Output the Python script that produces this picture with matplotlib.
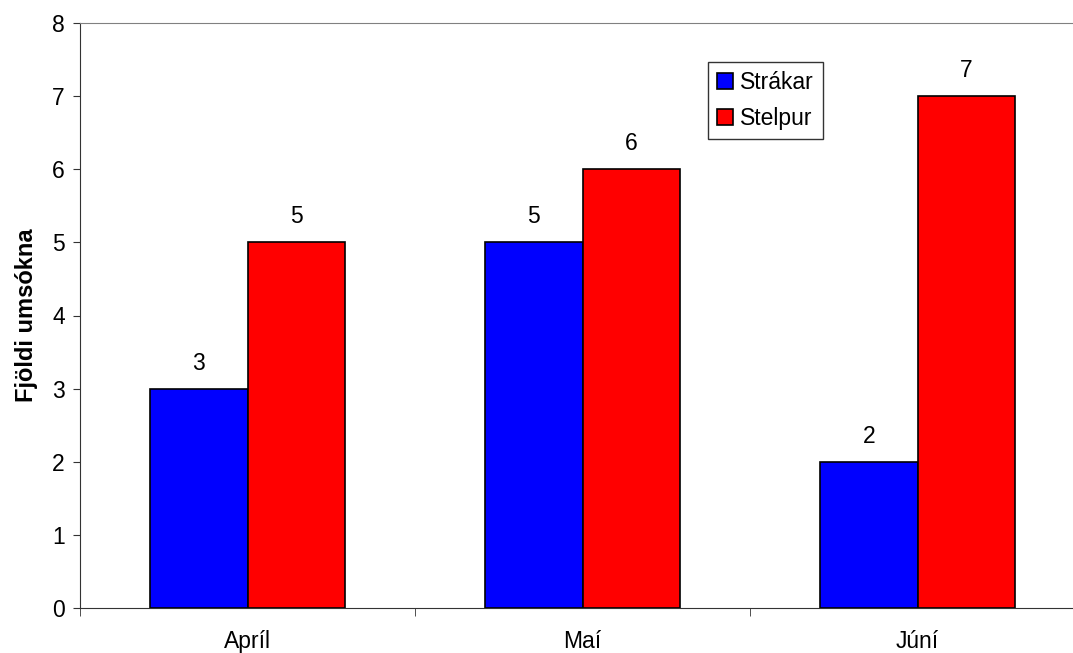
import numpy as np
import matplotlib.pyplot as plt
from matplotlib.ticker import FixedLocator

plt.rcParams['font.family'] = ['Liberation Sans', 'DejaVu Sans']

# Data
months = ['Apríl', 'Maí', 'Júní']
strakar = [3, 5, 2]
stelpur = [5, 6, 7]

FS = 16.5

W, H = 1073, 653
fig = plt.figure(figsize=(W / 100, H / 100), dpi=100)
# axes runs past the right edge of the figure, like the original
ax = fig.add_axes([80 / W, (H - 608) / H, 1005 / W, 585 / H])

x = np.arange(len(months))
bw = 0.29
b1 = ax.bar(x - bw / 2, strakar, bw, color='#0000ff', edgecolor='black', linewidth=1.2, label='Strákar')
b2 = ax.bar(x + bw / 2, stelpur, bw, color='#ff0000', edgecolor='black', linewidth=1.2, label='Stelpur')

for bars in (b1, b2):
    for b in bars:
        ax.annotate(f'{b.get_height():g}', (b.get_x() + b.get_width() / 2, b.get_height()),
                    xytext=(0, 10), textcoords='offset points', ha='center', va='bottom', fontsize=FS)

ax.set_xlim(-0.5, 2.5)
ax.set_ylim(0, 8)
ax.set_yticks(range(9))
ax.set_xticks(x)
ax.set_xticklabels(months)
ax.xaxis.set_minor_locator(FixedLocator([-0.5, 0.5, 1.5, 2.5]))
ax.tick_params(axis='x', which='major', length=0, pad=16, labelsize=FS)
ax.tick_params(axis='x', which='minor', length=6, direction='out', color='#333333')
ax.tick_params(axis='y', length=5, direction='out', pad=6, labelsize=FS, color='#333333')

ax.spines['right'].set_visible(False)
ax.spines['top'].set_color('#808080')
ax.spines['left'].set_color('#333333')
ax.spines['bottom'].set_color('#333333')

ax.set_ylabel('Fjöldi umsókna', fontsize=17, fontweight='bold', labelpad=10)

leg = ax.legend(loc='upper left', bbox_to_anchor=((708 - 80) / 1005, 1 - (62 - 23) / 585),
                fontsize=FS, frameon=True, fancybox=False, edgecolor='black',
                handlelength=0.7, handleheight=0.7, handletextpad=0.3,
                borderpad=0.4, labelspacing=0.55, borderaxespad=0)
leg.get_frame().set_linewidth(1.0)

fig.savefig('out.png', dpi=100)
